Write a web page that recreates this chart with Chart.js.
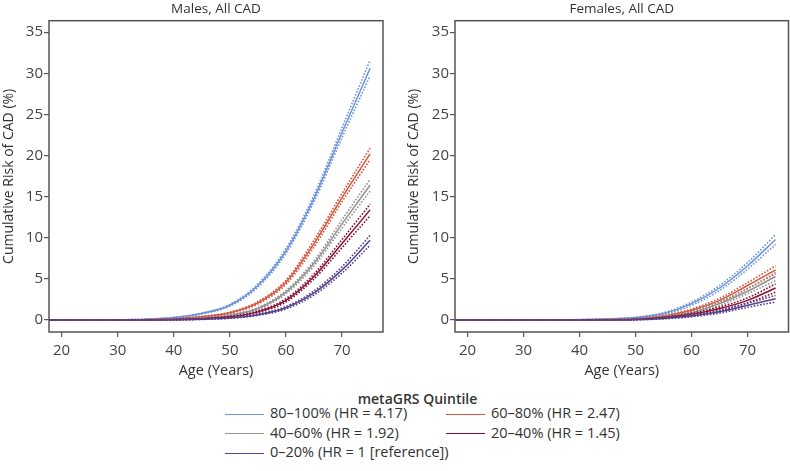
<!DOCTYPE html>
<html>
<head>
<meta charset="utf-8">
<script src="https://cdn.jsdelivr.net/npm/chart.js@4.4.1/dist/chart.umd.min.js"></script>
<style>
  body { margin: 0; background: #fff; width: 790px; height: 471px; overflow: hidden; font-family: "Open Sans", sans-serif; color: #333; }
  .panel { position: absolute; top: 0; height: 382px; }
  #legend { position: absolute; left: 0; top: 389px; width: 790px; font-size: 14.5px; }
  #legend .ttl { position: absolute; left: 225px; width: 385px; top: 0; text-align: center; font-weight: 600; font-size: 14px; color: #333; }
  .item { position: absolute; white-space: nowrap; line-height: 20px; }
  .item span.ln { display: inline-block; width: 39px; height: 0; border-top: 1.5px solid; vertical-align: middle; margin-right: 6px; }
</style>
</head>
<body>
<div class="panel" style="left:0;width:395px"><canvas id="males"></canvas></div>
<div class="panel" style="left:405px;width:385px"><canvas id="females"></canvas></div>
<div id="legend"></div>

<script>
var ages = [17, 20, 25, 30, 35, 40, 45, 50, 55, 60, 65, 70, 75];

// Males, cumulative risk (%)
var mQ5 = [0, 0, 0.01, 0.03, 0.1, 0.3, 0.8, 1.8, 4.2, 8.4, 14.8, 22.8, 30.6];
var mQ5lo = [0, 0, 0.01, 0.03, 0.09, 0.27, 0.74, 1.7, 4.0, 8.1, 14.4, 22.2, 29.7];
var mQ5hi = [0, 0, 0.01, 0.03, 0.11, 0.33, 0.86, 1.9, 4.4, 8.7, 15.2, 23.4, 31.6];
var mQ4 = [0, 0, 0, 0.01, 0.05, 0.15, 0.4, 0.9, 2.1, 4.6, 9.3, 14.9, 20.2];
var mQ4lo = [0, 0, 0, 0.01, 0.04, 0.13, 0.36, 0.83, 1.95, 4.35, 8.9, 14.4, 19.5];
var mQ4hi = [0, 0, 0, 0.01, 0.06, 0.17, 0.44, 0.97, 2.25, 4.85, 9.7, 15.4, 20.9];
var mQ3 = [0, 0, 0, 0.01, 0.03, 0.1, 0.25, 0.6, 1.4, 3.4, 6.9, 11.7, 16.4];
var mQ3lo = [0, 0, 0, 0.01, 0.02, 0.08, 0.22, 0.54, 1.28, 3.2, 6.6, 11.2, 15.7];
var mQ3hi = [0, 0, 0, 0.01, 0.04, 0.12, 0.28, 0.66, 1.52, 3.6, 7.2, 12.2, 17.1];
var mQ2 = [0, 0, 0, 0.01, 0.02, 0.07, 0.17, 0.4, 1.0, 2.4, 5.3, 9.3, 13.4];
var mQ2lo = [0, 0, 0, 0, 0.01, 0.05, 0.14, 0.35, 0.9, 2.2, 5.0, 8.8, 12.7];
var mQ2hi = [0, 0, 0, 0.02, 0.03, 0.09, 0.2, 0.45, 1.1, 2.6, 5.6, 9.8, 14.1];
var mQ1 = [0, 0, 0, 0, 0.01, 0.04, 0.1, 0.25, 0.65, 1.5, 3.3, 6.1, 9.7];
var mQ1lo = [0, 0, 0, 0, 0, 0.03, 0.08, 0.21, 0.57, 1.35, 3.05, 5.7, 9.1];
var mQ1hi = [0, 0, 0, 0, 0.02, 0.05, 0.12, 0.29, 0.73, 1.65, 3.55, 6.5, 10.3];

// Females, cumulative risk (%)
var fQ5 = [0, 0, 0, 0.01, 0.02, 0.05, 0.12, 0.3, 0.8, 2.0, 3.9, 6.6, 9.8];
var fQ5lo = [0, 0, 0, 0.01, 0.01, 0.04, 0.09, 0.25, 0.7, 1.8, 3.6, 6.2, 9.2];
var fQ5hi = [0, 0, 0, 0.01, 0.03, 0.06, 0.15, 0.35, 0.9, 2.2, 4.2, 7.0, 10.4];
var fQ4 = [0, 0, 0, 0, 0.01, 0.03, 0.06, 0.15, 0.5, 1.2, 2.4, 4.2, 6.1];
var fQ4lo = [0, 0, 0, 0, 0, 0.02, 0.04, 0.12, 0.42, 1.05, 2.15, 3.85, 5.6];
var fQ4hi = [0, 0, 0, 0, 0.02, 0.04, 0.08, 0.18, 0.58, 1.35, 2.65, 4.55, 6.6];
var fQ3 = [0, 0, 0, 0, 0.01, 0.02, 0.05, 0.12, 0.4, 0.9, 2.0, 3.5, 5.3];
var fQ3lo = [0, 0, 0, 0, 0, 0.01, 0.03, 0.09, 0.33, 0.78, 1.78, 3.2, 4.8];
var fQ3hi = [0, 0, 0, 0, 0.02, 0.03, 0.07, 0.15, 0.47, 1.02, 2.22, 3.8, 5.8];
var fQ2 = [0, 0, 0, 0, 0, 0.01, 0.03, 0.08, 0.3, 0.7, 1.4, 2.4, 3.9];
var fQ2lo = [0, 0, 0, 0, 0, 0, 0.02, 0.06, 0.24, 0.58, 1.2, 2.1, 3.4];
var fQ2hi = [0, 0, 0, 0, 0, 0.02, 0.04, 0.1, 0.36, 0.82, 1.6, 2.7, 4.4];
var fQ1 = [0, 0, 0, 0, 0, 0.01, 0.02, 0.06, 0.2, 0.5, 1.0, 1.8, 2.6];
var fQ1lo = [0, 0, 0, 0, 0, 0, 0.01, 0.04, 0.15, 0.4, 0.85, 1.55, 2.2];
var fQ1hi = [0, 0, 0, 0, 0, 0.02, 0.03, 0.08, 0.25, 0.6, 1.15, 2.05, 3.0];

var quintiles = ['80–100% (HR = 4.17)', '60–80% (HR = 2.47)', '40–60% (HR = 1.92)', '20–40% (HR = 1.45)', '0–20% (HR = 1 [reference])'];
var colors = ['#6d94da', '#d4553c', '#939393', '#8a0f35', '#55418f'];
var yTicks = [0, 5, 10, 15, 20, 25, 30, 35];
var xTicks = [20, 30, 40, 50, 60, 70];

function pts(arr) {
  return ages.map(function(a, i) { return {x: a, y: arr[i]}; });
}

// box around the plot area
var frame = {
  id: 'frame',
  afterDraw: function(chart) {
    var a = chart.chartArea, ctx = chart.ctx;
    ctx.save();
    ctx.strokeStyle = '#555';
    ctx.lineWidth = 1.5;
    ctx.strokeRect(a.left, a.top, a.right - a.left, a.bottom - a.top);
    ctx.restore();
  }
};

function makeChart(id, title, series, yWidth, padRight) {
  var ds = [];
  // confidence bands first, then the estimates on top
  for (var i = series.length - 1; i >= 0; i--) {
    [series[i][1], series[i][2]].forEach(function(b) {
      ds.push({data: pts(b), borderColor: colors[i], borderWidth: 1.6, borderDash: [1.6, 1.6], pointRadius: 0, cubicInterpolationMode: 'monotone'});
    });
  }
  for (var j = series.length - 1; j >= 0; j--) {
    ds.push({data: pts(series[j][0]), borderColor: colors[j], borderWidth: 1.5, pointRadius: 0, cubicInterpolationMode: 'monotone'});
  }
  var tickFont = {family: '"Open Sans", sans-serif', size: 15};
  return new Chart(document.getElementById(id), {
    type: 'line',
    data: {datasets: ds},
    plugins: [frame],
    options: {
      responsive: true,
      maintainAspectRatio: false,
      animation: false,
      layout: {padding: {left: 0, right: padRight, top: 0, bottom: 0}},
      plugins: {
        legend: {display: false},
        tooltip: {enabled: false},
        title: {display: true, text: title, fullSize: false, color: '#333',
          font: {family: '"Open Sans", sans-serif', size: 13.5, weight: 'normal'},
          padding: {top: 1.5, bottom: 3}}
      },
      scales: {
        x: {
          type: 'linear', min: 17.75, max: 77.3,
          afterBuildTicks: function(s) { s.ticks = xTicks.map(function(v) { return {value: v}; }); },
          afterFit: function(s) { s.height = 50; },
          grid: {drawOnChartArea: false, drawTicks: true, tickLength: 5, color: '#555', lineWidth: 1.2},
          border: {display: false},
          ticks: {color: '#444', font: tickFont, padding: 5, maxRotation: 0},
          title: {display: true, text: 'Age (Years)', color: '#333', font: {family: '"Open Sans", sans-serif', size: 14.5}, padding: {top: 0, bottom: 2.5}}
        },
        y: {
          type: 'linear', min: -1.45, max: 36.4,
          afterBuildTicks: function(s) { s.ticks = yTicks.map(function(v) { return {value: v}; }); },
          afterFit: function(s) { s.width = yWidth; },
          grid: {drawOnChartArea: false, drawTicks: true, tickLength: 5, color: '#555', lineWidth: 1.2},
          border: {display: false},
          ticks: {color: '#444', font: tickFont, padding: 1},
          title: {display: true, text: 'Cumulative Risk of CAD (%)', color: '#333', font: {family: '"Open Sans", sans-serif', size: 14}, padding: {top: 0.5, bottom: 0}}
        }
      }
    }
  });
}

makeChart('males', 'Males, All CAD',
  [[mQ5, mQ5lo, mQ5hi], [mQ4, mQ4lo, mQ4hi], [mQ3, mQ3lo, mQ3hi], [mQ2, mQ2lo, mQ2hi], [mQ1, mQ1lo, mQ1hi]], 49, 12);
makeChart('females', 'Females, All CAD',
  [[fQ5, fQ5lo, fQ5hi], [fQ4, fQ4lo, fQ4hi], [fQ3, fQ3lo, fQ3hi], [fQ2, fQ2lo, fQ2hi], [fQ1, fQ1lo, fQ1hi]], 50, 1.5);

// legend below both panels
var leg = document.getElementById('legend');
leg.innerHTML = '<div class="ttl">metaGRS Quintile</div>';
var spots = [[225, 14], [446, 14], [225, 33.5], [446, 33.5], [225, 53]];
quintiles.forEach(function(q, i) {
  var d = document.createElement('div');
  d.className = 'item';
  d.style.left = spots[i][0] + 'px';
  d.style.top = spots[i][1] + 'px';
  d.innerHTML = '<span class="ln" style="border-color:' + colors[i] + '"></span>' + q;
  leg.appendChild(d);
});
</script>
</body>
</html>
